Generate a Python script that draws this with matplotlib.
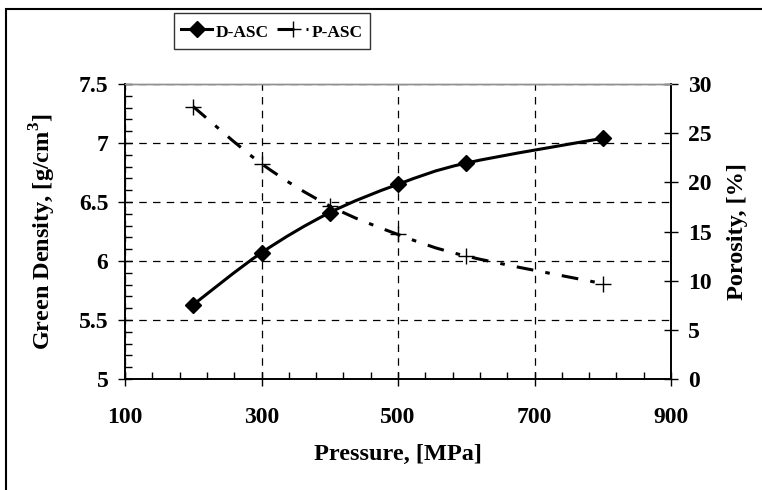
import matplotlib
matplotlib.use("Agg")
import matplotlib.pyplot as plt
from matplotlib.path import Path
from matplotlib.patches import PathPatch, Rectangle
from matplotlib.lines import Line2D
from matplotlib.ticker import MultipleLocator, FixedLocator, FuncFormatter

plt.rcParams['font.family'] = ['Liberation Serif', 'DejaVu Serif']
plt.rcParams['font.weight'] = 'bold'
plt.rcParams['mathtext.fontset'] = 'custom'
plt.rcParams['mathtext.rm'] = 'Liberation Serif:bold'
plt.rcParams['mathtext.bf'] = 'Liberation Serif:bold'

# data
pressure = [200, 300, 400, 500, 600, 800]
density = [5.63, 6.07, 6.41, 6.65, 6.83, 7.04]       # g/cm3, left axis
porosity = [27.7, 21.9, 17.6, 14.7, 12.5, 9.7]       # %, right axis
series_names = ["D-ASC", "P-ASC"]
x_ticks = [100, 300, 500, 700, 900]


def smooth_path(xs, ys):
    # Excel-like smoothed line: Catmull-Rom segments as cubic Bezier curves
    pts = list(zip(xs, ys))
    verts = [pts[0]]
    codes = [Path.MOVETO]
    n = len(pts)
    for i in range(n - 1):
        p0 = pts[i - 1] if i > 0 else pts[i]
        p1 = pts[i]
        p2 = pts[i + 1]
        p3 = pts[i + 2] if i + 2 < n else pts[i + 1]
        c1 = (p1[0] + (p2[0] - p0[0]) / 6, p1[1] + (p2[1] - p0[1]) / 6)
        c2 = (p2[0] - (p3[0] - p1[0]) / 6, p2[1] - (p3[1] - p1[1]) / 6)
        verts += [c1, c2, p2]
        codes += [Path.CURVE4] * 3
    return Path(verts, codes)


fig = plt.figure(figsize=(7.62, 4.9), dpi=100)
ax = fig.add_axes([125 / 762, 1 - 379 / 490, 546 / 762, 295 / 490])
ax2 = ax.twinx()

lw = 2.2
dash = (0, (5.5, 4, 1.5, 4))
fs = 17

ax.add_patch(PathPatch(smooth_path(pressure, density), fill=False,
                       lw=lw, color='black', zorder=3, capstyle='butt'))
ax.plot(pressure, density, ls='none', marker='D', ms=8.5, color='black', zorder=4)

ax2.add_patch(PathPatch(smooth_path(pressure, porosity), fill=False,
                        lw=lw, color='black', linestyle=dash, zorder=3))
ax2.plot(pressure, porosity, ls='none', marker='+', ms=12, mew=1, color='black', zorder=4)

ax.set_xlim(100, 900)
ax.set_ylim(5, 7.5)
ax2.set_ylim(0, 30)
ax.xaxis.set_major_locator(FixedLocator(x_ticks))
ax.xaxis.set_minor_locator(MultipleLocator(40, offset=20))
ax.yaxis.set_major_locator(MultipleLocator(0.5))
ax.yaxis.set_minor_locator(MultipleLocator(0.1))
ax.yaxis.set_major_formatter(FuncFormatter(lambda v, p: f"{v:g}"))
ax2.yaxis.set_major_locator(MultipleLocator(5))

ax.grid(True, which='major', color='black', ls=(0, (6, 5)), lw=0.9)

ax.tick_params(which='major', direction='inout', length=10, width=1, labelsize=fs, pad=7)
ax.tick_params(which='minor', direction='in', length=5, width=1)
ax2.tick_params(which='major', direction='inout', length=10, width=1, labelsize=fs, pad=7)
ax.tick_params(axis='x', pad=15)

for a in (ax, ax2):
    a.spines['top'].set_color('#909090')
    a.spines['top'].set_linewidth(1)
    for s in ('left', 'right', 'bottom'):
        a.spines[s].set_linewidth(1.2)

ax.set_xlabel("Pressure, [MPa]", fontsize=17.5, fontweight='bold', labelpad=12)
ax.set_ylabel("Green Density, [g/cm$^3$]", fontsize=17.5, fontweight='bold', labelpad=15)
ax2.set_ylabel("Porosity, [%]", fontsize=17.5, fontweight='bold', labelpad=11)

handles = [
    Line2D([], [], color='black', lw=lw, marker='D', ms=8.5),
    Line2D([], [], color='black', lw=lw, ls=dash, marker='+', ms=12, mew=1),
]
leg = fig.legend(handles, series_names, loc='center', bbox_to_anchor=(272 / 762, 1 - 31 / 490),
                 ncol=2, frameon=True, fancybox=False, edgecolor='black',
                 prop={'size': 12.5, 'weight': 'bold'}, handlelength=1.8, handleheight=1.5,
                 handletextpad=0.2, columnspacing=0.45, borderpad=0.4)
leg.get_frame().set_linewidth(1)

# outer chart border (cut by the image on the right and bottom)
fig.patches.append(Rectangle((6 / 762, -0.1), 2, 1.1 - 9 / 490, transform=fig.transFigure,
                             fill=False, lw=1.5, edgecolor='black'))

fig.savefig("out.png", dpi=100)
